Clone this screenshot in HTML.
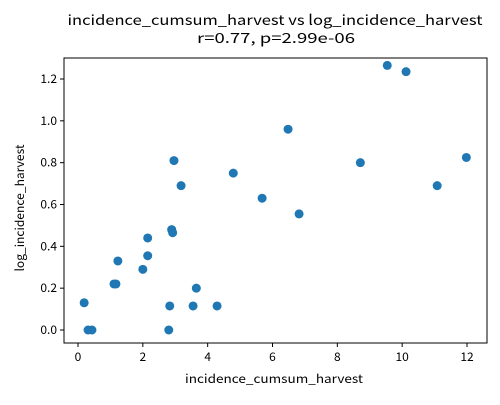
<!DOCTYPE html>
<html><head><meta charset="utf-8"><style>
body{margin:0;background:#fff;}
svg text{font-family:"Noto Sans CJK JP",sans-serif;}
</style></head><body>
<svg id="c" width="500" height="400" xmlns="http://www.w3.org/2000/svg">
<rect width="500" height="400" fill="#fff"/>
<text x="275" y="25" text-anchor="middle" font-size="14" textLength="415" lengthAdjust="spacingAndGlyphs">incidence_cumsum_harvest vs log_incidence_harvest</text>
<text x="276" y="43" text-anchor="middle" font-size="14" textLength="158" lengthAdjust="spacingAndGlyphs">r=0.77, p=2.99e-06</text>
<g id="ax"></g>
<rect x="64" y="58" width="423" height="285" fill="none" stroke="#000" stroke-width="1"/>
<text x="274" y="383" text-anchor="middle" font-size="12" textLength="178" lengthAdjust="spacingAndGlyphs">incidence_cumsum_harvest</text>
<text transform="translate(24,208) rotate(-90)" text-anchor="middle" font-size="12" textLength="127" lengthAdjust="spacingAndGlyphs">log_incidence_harvest</text>
</svg>
<script>
const xVals=[0.19,0.31,0.43,1.11,1.17,1.23,2.0,2.15,2.15,2.8,2.83,2.89,2.92,2.96,3.18,3.55,3.65,4.29,4.79,5.68,6.48,6.82,8.71,9.54,10.12,11.08,11.98];
const yVals=[0.13,0,0,0.22,0.22,0.33,0.29,0.355,0.44,0,0.115,0.48,0.465,0.81,0.69,0.115,0.2,0.115,0.75,0.63,0.96,0.555,0.80,1.265,1.235,0.69,0.825];
const xTicks=[0,2,4,6,8,10,12];
const yTicks=[0.0,0.2,0.4,0.6,0.8,1.0,1.2];
const NS="http://www.w3.org/2000/svg";
const sx=v=>78+v*(467-78)/12;
const sy=v=>330-v*(330-79)/1.2;
const g=document.getElementById('ax');
function mk(t,a){const e=document.createElementNS(NS,t);for(const k in a)e.setAttribute(k,a[k]);g.appendChild(e);return e;}
xTicks.forEach(t=>{
 const l=mk('line',{x1:sx(t),x2:sx(t),y1:343,y2:347,stroke:'#000'});
 
 
 const tx=mk('text',{x:sx(t),y:361,'text-anchor':'middle','font-size':12});
 tx.textContent=t;
 
 
});
yTicks.forEach(t=>{
 const l=mk('line',{x1:60,x2:64,y1:sy(t),y2:sy(t),stroke:'#000'});
 
 
 const tx=mk('text',{x:57,y:sy(t)+4,'text-anchor':'end','font-size':12});
 tx.textContent=t.toFixed(1);
 
 
});
xVals.forEach((x,i)=>{
 const c=mk('circle',{cx:sx(x),cy:sy(yVals[i]),r:4.5,fill:'#1f77b4'});
 
 
});
</script>
</body></html>
